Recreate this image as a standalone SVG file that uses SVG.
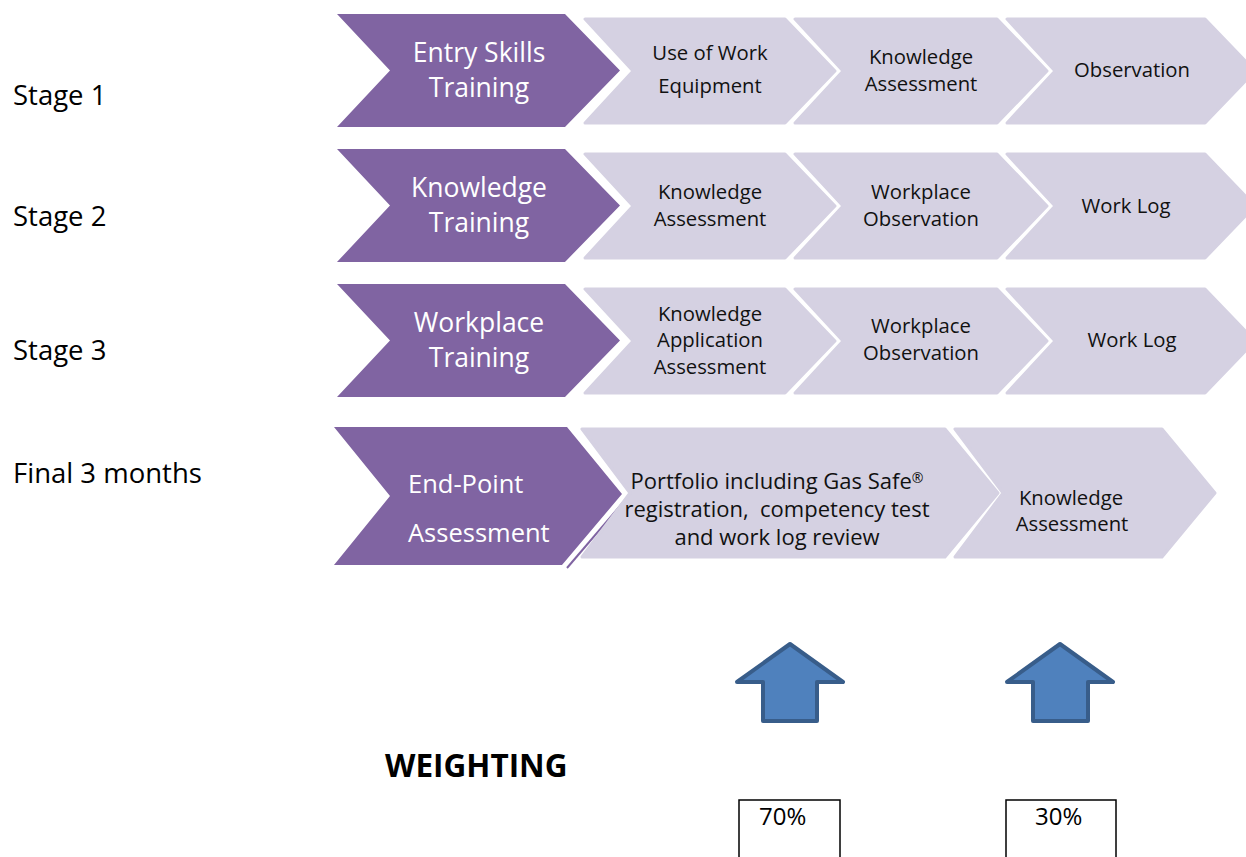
<svg xmlns="http://www.w3.org/2000/svg" width="1246" height="857" viewBox="0 0 1246 857">
<style>
.bg{fill:#ffffff}
.pu{fill:#8064A2}
.lt{fill:#D5D1E2;stroke:#D5D1E2;stroke-width:3;stroke-linejoin:round}
.pt{font-family:"Open Sans","Noto Sans",sans-serif;font-size:26.5px;fill:#ffffff;text-anchor:middle}
.ptl{font-family:"Open Sans","Noto Sans",sans-serif;font-size:25.5px;fill:#ffffff}
.t{font-family:"Open Sans","Noto Sans",sans-serif;font-size:20.3px;fill:#111111;text-anchor:middle}
.tb{font-family:"Open Sans","Noto Sans",sans-serif;font-size:22px;fill:#111111;text-anchor:middle}
.lab{font-family:"Open Sans","Noto Sans",sans-serif;font-size:27.5px;fill:#000000}
.w{font-family:"Open Sans","Noto Sans",sans-serif;font-size:31.5px;font-weight:bold;fill:#000000}
.pct{font-family:"Open Sans","Noto Sans",sans-serif;font-size:24px;fill:#000000}
.arr{fill:#4F81BD;stroke:#385D8A;stroke-width:4;stroke-linejoin:round}
.box{fill:#ffffff;stroke:#000000;stroke-width:1.5}
</style>
<rect class="bg" x="0" y="0" width="1246" height="857"/>

<g id="labels">
<text class="lab" x="13" y="105">Stage 1</text>
<text class="lab" x="13" y="226">Stage 2</text>
<text class="lab" x="13" y="360">Stage 3</text>
<text class="lab" x="13" y="483">Final 3 months</text>
</g>

<!-- Row 1 -->
<g id="row1-main">
<polygon class="pu" points="337,14 565,14 620,70.5 565,127 337,127 390,70.5"/>
<text class="pt" x="479" y="62">Entry Skills</text>
<text class="pt" x="479" y="97">Training</text>
</g>
<g id="row1-a">
<polygon class="lt" points="585,19 785,19 835,71 785,123 585,123 633,71"/>
<text class="t" x="710" y="60">Use of Work</text>
<text class="t" x="710" y="93">Equipment</text>
</g>
<g id="row1-b">
<polygon class="lt" points="795,19 997,19 1047,71 997,123 795,123 843,71"/>
<text class="t" x="921" y="64">Knowledge</text>
<text class="t" x="921" y="90.5">Assessment</text>
</g>
<g id="row1-c">
<polygon class="lt" points="1007,19 1205,19 1255,71 1205,123 1007,123 1055,71"/>
<text class="t" x="1132" y="77">Observation</text>
</g>

<!-- Row 2 -->
<g id="row2-main">
<polygon class="pu" points="337,149 565,149 620,205.5 565,262 337,262 390,205.5"/>
<text class="pt" x="479" y="197">Knowledge</text>
<text class="pt" x="479" y="232">Training</text>
</g>
<g id="row2-a">
<polygon class="lt" points="585,154 785,154 835,206 785,258 585,258 633,206"/>
<text class="t" x="710" y="199">Knowledge</text>
<text class="t" x="710" y="225.5">Assessment</text>
</g>
<g id="row2-b">
<polygon class="lt" points="795,154 997,154 1047,206 997,258 795,258 843,206"/>
<text class="t" x="921" y="199">Workplace</text>
<text class="t" x="921" y="225.5">Observation</text>
</g>
<g id="row2-c">
<polygon class="lt" points="1007,154 1205,154 1255,206 1205,258 1007,258 1055,206"/>
<text class="t" x="1126" y="213">Work Log</text>
</g>

<!-- Row 3 -->
<g id="row3-main">
<polygon class="pu" points="337,284 565,284 620,340.5 565,397 337,397 390,340.5"/>
<text class="pt" x="479" y="332">Workplace</text>
<text class="pt" x="479" y="367">Training</text>
</g>
<g id="row3-a">
<polygon class="lt" points="585,289 785,289 835,341 785,393 585,393 633,341"/>
<text class="t" x="710" y="320.5">Knowledge</text>
<text class="t" x="710" y="347">Application</text>
<text class="t" x="710" y="373.5">Assessment</text>
</g>
<g id="row3-b">
<polygon class="lt" points="795,289 997,289 1047,341 997,393 795,393 843,341"/>
<text class="t" x="921" y="333">Workplace</text>
<text class="t" x="921" y="360">Observation</text>
</g>
<g id="row3-c">
<polygon class="lt" points="1007,289 1205,289 1255,341 1205,393 1007,393 1055,341"/>
<text class="t" x="1132" y="347">Work Log</text>
</g>

<!-- Row 4 -->
<g id="row4-main">
<polygon class="pu" points="334,427 567,427 622,494 562,565 334,565 390,496"/>
<line x1="626" y1="499" x2="567" y2="568" stroke="#8064A2" stroke-width="2"/>
<text class="ptl" x="408" y="493">End-Point</text>
<text class="ptl" x="408" y="542">Assessment</text>
</g>
<g id="row4-a">
<polygon class="lt" points="582,429 945,429 998,493 945,557 582,557 630,493"/>
<text class="tb" x="777" y="489">Portfolio including Gas Safe<tspan font-size="14" dy="-6">®</tspan></text>
<text class="tb" x="777" y="517" xml:space="preserve">registration,  competency test</text>
<text class="tb" x="777" y="545">and work log review</text>
</g>
<g id="row4-b">
<polygon class="lt" points="955,429 1162,429 1215,493 1162,557 955,557 1003,493"/>
<text class="t" x="1071" y="505">Knowledge</text>
<text class="t" x="1072" y="531">Assessment</text>
</g>

<!-- Weighting -->
<g id="weighting">
<text class="w" x="385" y="777">WEIGHTING</text>
</g>
<g id="arrows">
<polygon class="arr" points="790,644 843,682 817,682 817,721 763,721 763,682 737,682"/>
<polygon class="arr" points="1060,644 1113,682 1088,682 1088,721 1033,721 1033,682 1007,682"/>
</g>
<g id="box70">
<rect class="box" x="739" y="800" width="101" height="70"/>
<text class="pct" x="759" y="825">70%</text>
</g>
<g id="box30">
<rect class="box" x="1006" y="800" width="110" height="70"/>
<text class="pct" x="1035" y="825">30%</text>
</g>
</svg>
